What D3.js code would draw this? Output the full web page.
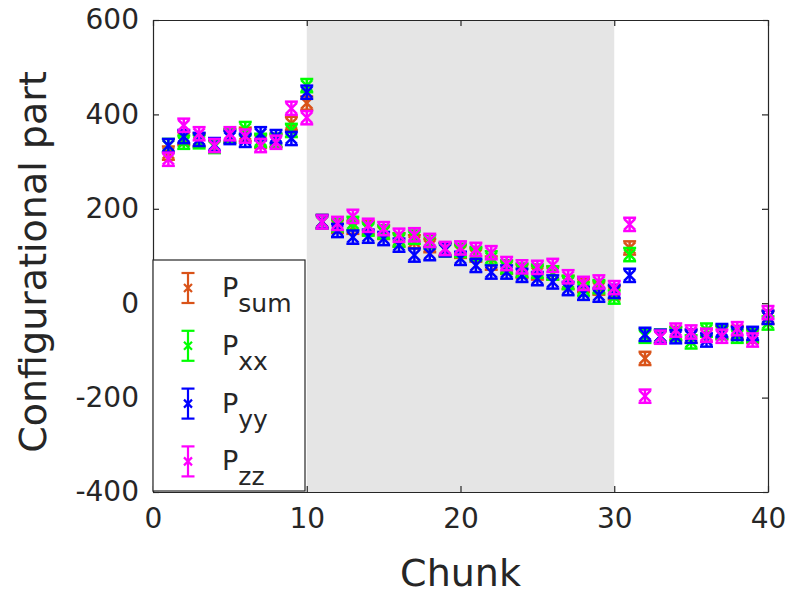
<!DOCTYPE html>
<html>
<head>
<meta charset="utf-8">
<script src="https://cdn.jsdelivr.net/npm/d3@7"></script>
<style>
  body { margin: 0; background: #fff; }
  text { font-family: "DejaVu Sans", sans-serif; fill: #262626; }
</style>
</head>
<body>
<svg id="chart" width="795" height="596"></svg>
<script>
// Chunk indices
const chunks = [1, 2, 3, 4, 5, 6, 7, 8, 9, 10,
                11, 12, 13, 14, 15, 16, 17, 18, 19, 20,
                21, 22, 23, 24, 25, 26, 27, 28, 29, 30,
                31, 32, 33, 34, 35, 36, 37, 38, 39, 40];

// Configurational part of each pressure component per chunk
const pSum = [318, 349, 346, 333, 354, 358, 343, 345, 381, 424,
              173, 163, 161, 160, 150, 134, 130, 122, 114, 110,
              102, 85, 76, 68, 64, 64, 44, 38, 32, 22,
              117, -117, -71, -64, -70, -68, -62, -62, -70, -30];
const pXX = [334, 341, 342, 332, 355, 370, 345, 345, 366, 461,
             172, 166, 169, 157, 151, 134, 140, 130, 113, 112,
             105, 96, 77, 70, 68, 64, 44, 30, 35, 13,
             103, -70, -70, -65, -82, -57, -62, -70, -68, -42];
const pYY = [334, 353, 347, 336, 351, 345, 359, 353, 349, 447,
             173, 154, 140, 142, 137, 123, 102, 105, 113, 95,
             80, 66, 66, 59, 52, 45, 31, 21, 17, 25,
             59, -66, -70, -71, -70, -78, -58, -64, -64, -30];
const pZZ = [305, 377, 359, 334, 359, 354, 334, 341, 413, 393,
             172, 169, 184, 165, 158, 144, 145, 133, 116, 117,
             114, 107, 84, 77, 76, 80, 56, 42, 45, 33,
             167, -197, -72, -57, -61, -68, -70, -54, -78, -20];

// Half-length of the error bar for each series
const errSum = 14, errXX = 14, errYY = 14, errZZ = 14;

const seriesNames = ["sum", "xx", "yy", "zz"];
const seriesColors = ["#D95319", "#00FF00", "#0000FF", "#FF00FF"];

const xTicks = [0, 10, 20, 30, 40];
const yTicks = [-400, -200, 0, 200, 400, 600];
const shadeRange = [10, 30];

const series = [
  { name: seriesNames[0], color: seriesColors[0], values: pSum, err: errSum },
  { name: seriesNames[1], color: seriesColors[1], values: pXX, err: errXX },
  { name: seriesNames[2], color: seriesColors[2], values: pYY, err: errYY },
  { name: seriesNames[3], color: seriesColors[3], values: pZZ, err: errZZ }
];

const svg = d3.select("#chart");
const plotL = 153, plotR = 768, plotT = 20, plotB = 492;

const x = d3.scaleLinear().domain([0, 40]).range([plotL, plotR]);
const y = d3.scaleLinear().domain([-400, 600]).range([plotB, plotT]);

// Shaded chunk window
svg.append("rect")
  .attr("x", x(shadeRange[0])).attr("y", plotT)
  .attr("width", x(shadeRange[1]) - x(shadeRange[0]))
  .attr("height", plotB - plotT)
  .attr("fill", "#e5e5e5");

// Error bars with x markers
const capW = 6.5, mk = 5.5, sw = 2.5;
series.forEach(s => {
  const g = svg.append("g")
    .attr("stroke", s.color).attr("stroke-width", sw).attr("fill", "none");
  chunks.forEach((c, i) => {
    const cx = x(c), v = s.values[i];
    const yt = y(v + s.err), yb = y(v - s.err), yc = y(v);
    g.append("line").attr("x1", cx).attr("x2", cx).attr("y1", yt).attr("y2", yb);
    g.append("line").attr("x1", cx - capW).attr("x2", cx + capW).attr("y1", yt).attr("y2", yt);
    g.append("line").attr("x1", cx - capW).attr("x2", cx + capW).attr("y1", yb).attr("y2", yb);
    g.append("path")
      .attr("d", `M${cx - mk},${yc - mk}L${cx + mk},${yc + mk}M${cx - mk},${yc + mk}L${cx + mk},${yc - mk}`);
  });
});

// Axes box with inward ticks
const axisColor = "#262626";
const tickLen = 6;
const axisFont = 28;
const fmt = d => String(d);   // plain hyphen-minus for negatives

const xAxis = svg.append("g").attr("transform", `translate(0,${plotB})`)
  .call(d3.axisBottom(x).tickValues(xTicks).tickFormat(fmt).tickSizeInner(-tickLen).tickSizeOuter(0).tickPadding(16));
const xAxisTop = svg.append("g").attr("transform", `translate(0,${plotT})`)
  .call(d3.axisTop(x).tickValues(xTicks).tickSizeInner(-tickLen).tickSizeOuter(0).tickFormat(""));
const yAxis = svg.append("g").attr("transform", `translate(${plotL},0)`)
  .call(d3.axisLeft(y).tickValues(yTicks).tickFormat(fmt).tickSizeInner(-tickLen).tickSizeOuter(0).tickPadding(14));
const yAxisRight = svg.append("g").attr("transform", `translate(${plotR},0)`)
  .call(d3.axisRight(y).tickValues(yTicks).tickSizeInner(-tickLen).tickSizeOuter(0).tickFormat(""));

[xAxis, xAxisTop, yAxis, yAxisRight].forEach(a => {
  a.select(".domain").attr("stroke", axisColor).attr("stroke-width", 1.2);
  a.selectAll(".tick line").attr("stroke", axisColor).attr("stroke-width", 1.2);
  a.selectAll("text").attr("font-size", axisFont).attr("font-family", "DejaVu Sans").attr("fill", axisColor);
});

// Axis titles
svg.append("text")
  .attr("x", (plotL + plotR) / 2).attr("y", 586)
  .attr("text-anchor", "middle").attr("font-size", 38)
  .text("Chunk");
svg.append("text")
  .attr("transform", `translate(46,${(plotT + plotB) / 2 + 6}) rotate(-90)`)
  .attr("text-anchor", "middle").attr("font-size", 38)
  .text("Configurational part");

// Legend
const lg = svg.append("g");
lg.append("rect")
  .attr("x", plotL).attr("y", 260).attr("width", 152).attr("height", 231)
  .attr("fill", "#fff").attr("stroke", axisColor).attr("stroke-width", 1.2);
series.forEach((s, i) => {
  const cy = 288 + i * 57.8, cx = 188;
  const g = lg.append("g").attr("stroke", s.color).attr("stroke-width", 2.2).attr("fill", "none");
  g.append("line").attr("x1", cx).attr("x2", cx).attr("y1", cy - 15).attr("y2", cy + 15);
  g.append("line").attr("x1", cx - capW).attr("x2", cx + capW).attr("y1", cy - 15).attr("y2", cy - 15);
  g.append("line").attr("x1", cx - capW).attr("x2", cx + capW).attr("y1", cy + 15).attr("y2", cy + 15);
  g.append("path").attr("d", `M${cx - 4},${cy - 4}L${cx + 4},${cy + 4}M${cx - 4},${cy + 4}L${cx + 4},${cy - 4}`);
  const t = lg.append("text").attr("x", 222).attr("y", cy + 9).attr("font-size", 27);
  t.append("tspan").text("P");
  t.append("tspan").attr("dy", 15).attr("font-size", 25).text(s.name);
});
</script>
</body>
</html>
